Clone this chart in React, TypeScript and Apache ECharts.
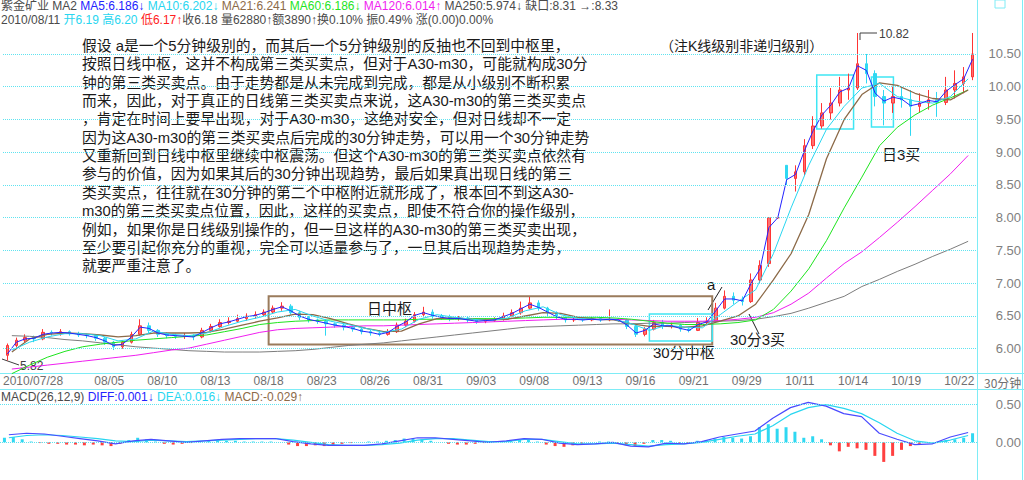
import React, { useEffect, useRef } from 'react';
import * as echarts from 'echarts';

const FONT = '"Liberation Sans", "Noto Sans CJK SC", sans-serif';
const CJK = '"Noto Sans CJK SC", sans-serif';

const days = ['07/28','07/29','07/30','08/02','08/03','08/04','08/05','08/06','08/09','08/10','08/11','08/12','08/13','08/16','08/17','08/18','08/19','08/20','08/23','08/24','08/25','08/26','08/27','08/30','08/31','09/01','09/02','09/03','09/06','09/07','09/08','09/09','09/10','09/13','09/14','09/15','09/16','09/17','09/20','09/21','09/27','09/28','09/29','09/30','10/08','10/11','10/12','10/13','10/14','10/15','10/18','10/19','10/20','10/21','10/22'];

// half-day bars: [open, close, low, high]
const candles: number[][] = [
  [5.90,6.05,5.82,6.08],[6.05,6.13,6.02,6.17],[6.13,6.17,6.10,6.22],[6.17,6.15,6.10,6.20],
  [6.15,6.25,6.13,6.30],[6.25,6.24,6.20,6.28],[6.24,6.26,6.20,6.30],[6.26,6.23,6.20,6.28],
  [6.23,6.21,6.18,6.26],[6.21,6.20,6.16,6.23],[6.20,6.16,6.12,6.22],[6.16,6.10,6.06,6.18],
  [6.10,6.03,5.98,6.12],[6.03,6.10,6.00,6.13],[6.10,6.22,6.08,6.26],[6.22,6.35,6.20,6.45],
  [6.35,6.28,6.24,6.40],[6.28,6.22,6.18,6.30],[6.22,6.20,6.16,6.25],[6.20,6.19,6.15,6.23],
  [6.19,6.20,6.15,6.24],[6.20,6.18,6.13,6.22],[6.18,6.28,6.16,6.32],[6.28,6.34,6.25,6.38],
  [6.34,6.40,6.32,6.45],[6.40,6.42,6.37,6.48],[6.42,6.46,6.40,6.52],[6.46,6.50,6.43,6.54],
  [6.50,6.52,6.46,6.57],[6.52,6.56,6.50,6.60],[6.56,6.62,6.53,6.66],[6.62,6.65,6.58,6.71],
  [6.65,6.55,6.52,6.68],[6.55,6.48,6.44,6.58],[6.48,6.44,6.40,6.50],[6.44,6.42,6.38,6.46],
  [6.42,6.38,6.20,6.45],[6.38,6.36,6.32,6.40],[6.36,6.33,6.28,6.38],[6.33,6.30,6.26,6.35],
  [6.30,6.26,6.22,6.32],[6.26,6.24,6.20,6.29],[6.24,6.22,6.19,6.28],[6.22,6.26,6.20,6.30],
  [6.26,6.36,6.24,6.40],[6.36,6.42,6.33,6.46],[6.42,6.52,6.40,6.56],[6.52,6.56,6.48,6.64],
  [6.56,6.50,6.46,6.60],[6.50,6.48,6.44,6.53],[6.48,6.46,6.42,6.52],[6.46,6.47,6.43,6.50],
  [6.47,6.44,6.40,6.49],[6.44,6.42,6.38,6.46],[6.42,6.43,6.39,6.46],[6.43,6.45,6.41,6.48],
  [6.45,6.50,6.43,6.55],[6.50,6.55,6.48,6.60],[6.55,6.62,6.52,6.72],[6.62,6.70,6.60,6.79],
  [6.70,6.62,6.58,6.74],[6.62,6.55,6.50,6.64],[6.55,6.48,6.44,6.57],[6.48,6.44,6.40,6.50],
  [6.44,6.45,6.41,6.48],[6.45,6.44,6.41,6.47],[6.44,6.46,6.42,6.50],[6.46,6.44,6.41,6.48],
  [6.44,6.45,6.42,6.60],[6.45,6.44,6.41,6.47],[6.44,6.34,6.30,6.46],[6.34,6.22,6.18,6.36],
  [6.22,6.30,6.19,6.33],[6.30,6.40,6.28,6.44],[6.40,6.34,6.30,6.44],[6.34,6.36,6.31,6.40],
  [6.36,6.30,6.26,6.38],[6.30,6.28,6.25,6.32],[6.28,6.40,6.27,6.47],[6.40,6.42,6.37,6.48],
  [6.42,6.62,6.40,6.70],[6.62,6.80,6.60,6.89],[6.80,6.74,6.68,6.86],[6.74,6.72,6.66,6.80],
  [6.72,7.05,6.70,7.15],[7.05,7.27,7.00,7.35],[7.30,8.00,7.25,8.00],[8.00,8.00,7.98,8.00],
  [8.80,8.60,8.50,8.80],[8.60,8.70,8.40,8.80],[8.70,9.10,8.65,9.20],[9.10,9.40,9.05,9.55],
  [9.40,9.60,9.36,9.75],[9.60,9.75,9.50,9.98],[9.75,9.95,9.70,10.15],[9.95,9.98,9.80,10.20],
  [9.98,10.35,9.95,10.82],[10.35,10.20,10.05,10.50],[10.20,9.85,9.70,10.25],[9.85,9.75,9.41,9.95],
  [9.75,9.85,9.60,10.00],[9.85,9.80,9.68,10.00],[9.80,9.70,9.25,9.95],[9.70,9.75,9.60,9.90],
  [9.75,9.80,9.65,9.95],[9.80,9.76,9.54,9.92],[9.76,9.95,9.72,10.15],[9.95,10.05,9.82,10.25],
  [10.05,10.15,9.90,10.30],[10.15,10.50,10.10,10.82]
];

// MA5, one value per half-day bar
const ma5 = [5.92,6.10,6.15,6.16,6.22,6.24,6.25,6.24,6.22,6.20,
  6.17,6.12,6.05,6.07,6.18,6.33,6.31,6.24,6.21,6.20,
  6.19,6.18,6.25,6.32,6.38,6.41,6.45,6.49,6.51,6.55,
  6.60,6.64,6.58,6.50,6.45,6.42,6.39,6.36,6.34,6.31,
  6.27,6.25,6.22,6.25,6.34,6.41,6.51,6.55,6.51,6.48,
  6.46,6.46,6.44,6.42,6.43,6.44,6.49,6.54,6.61,6.68,
  6.63,6.56,6.49,6.45,6.45,6.44,6.45,6.44,6.45,6.44,
  6.36,6.24,6.28,6.38,6.35,6.35,6.31,6.28,6.37,6.41,
  6.58,6.76,6.76,6.73,7.00,7.22,7.85,8.00,8.58,8.66,
  9.02,9.33,9.57,9.72,9.92,9.98,10.32,10.25,9.90,9.78,
  9.84,9.81,9.71,9.74,9.79,9.77,9.93,10.03,10.12,10.42];

// daily readings (one per trading day, at mid-day)
const ma10 = [5.98,6.10,6.18,6.23,6.23,6.20,6.12,6.15,6.27,6.22,6.20,6.24,6.34,6.42,6.48,6.56,6.60,6.50,6.42,6.37,6.31,6.25,6.30,6.45,6.52,6.48,6.45,6.43,6.47,6.58,6.64,6.52,6.46,6.45,6.45,6.38,6.28,6.36,6.33,6.32,6.52,6.72,6.90,7.45,8.15,8.80,9.35,9.70,9.98,10.05,9.85,9.78,9.75,9.85,10.12];
const ma21 = [5.95,6.15,6.22,6.24,6.23,6.21,6.18,6.20,6.24,6.24,6.24,6.25,6.30,6.36,6.42,6.47,6.53,6.52,6.46,6.38,6.31,6.26,6.27,6.38,6.46,6.47,6.45,6.44,6.45,6.50,6.55,6.54,6.48,6.45,6.44,6.38,6.34,6.34,6.33,6.35,6.42,6.50,6.68,7.05,7.45,8.05,8.90,9.50,9.88,10.06,10.02,9.90,9.82,9.80,9.95];
const ma60 = [5.62,5.75,5.87,5.96,6.03,6.07,6.10,6.13,6.15,6.17,6.19,6.21,6.26,6.31,6.37,6.40,6.42,6.43,6.44,6.44,6.44,6.44,6.44,6.45,6.45,6.45,6.46,6.46,6.46,6.47,6.48,6.48,6.48,6.48,6.47,6.45,6.42,6.39,6.37,6.37,6.38,6.40,6.44,6.60,6.88,7.22,7.65,8.15,8.62,9.10,9.38,9.57,9.72,9.83,9.95];
const ma120 = [5.69,5.72,5.75,5.78,5.81,5.84,5.87,5.90,5.94,5.98,6.01,6.07,6.13,6.19,6.25,6.29,6.31,6.32,6.33,6.34,6.35,6.35,6.36,6.37,6.38,6.39,6.40,6.41,6.42,6.43,6.44,6.45,6.45,6.45,6.45,6.44,6.43,6.42,6.42,6.42,6.43,6.45,6.48,6.55,6.68,6.85,7.08,7.30,7.48,7.70,7.93,8.17,8.42,8.67,8.95];
const ma250 = [6.20,6.19,6.17,6.14,6.12,6.09,6.06,6.03,6.01,5.99,5.97,5.96,5.95,5.95,5.95,5.96,5.97,5.99,6.02,6.05,6.07,6.09,6.12,6.15,6.18,6.21,6.24,6.27,6.30,6.33,6.34,6.35,6.36,6.37,6.38,6.38,6.39,6.39,6.40,6.41,6.42,6.43,6.45,6.49,6.54,6.62,6.71,6.80,6.95,7.06,7.18,7.29,7.41,7.52,7.64];

const diff = [0.10,0.12,0.11,0.08,0.05,0.02,-0.02,0.02,0.04,0.02,0.00,0.02,0.04,0.05,0.05,0.05,0.01,-0.02,-0.04,-0.04,-0.04,-0.02,0.02,0.06,0.06,0.04,0.02,0.00,0.02,0.05,0.04,-0.01,-0.03,-0.02,0.00,-0.05,-0.06,-0.01,-0.02,0.01,0.07,0.11,0.15,0.32,0.46,0.53,0.48,0.38,0.34,0.12,0.04,-0.03,-0.02,0.07,0.13];
const dea = [0.06,0.09,0.10,0.09,0.07,0.05,0.02,0.01,0.03,0.02,0.01,0.02,0.03,0.04,0.05,0.05,0.03,0.00,-0.03,-0.04,-0.04,-0.03,-0.01,0.03,0.05,0.05,0.03,0.01,0.01,0.04,0.04,0.01,-0.02,-0.02,-0.01,-0.03,-0.05,-0.03,-0.02,0.00,0.04,0.08,0.11,0.22,0.37,0.46,0.50,0.45,0.38,0.26,0.12,0.02,-0.01,0.03,0.09];
const macdBars = [0.06,0.07,0.04,0.01,-0.01,-0.02,-0.02,-0.03,-0.03,-0.04,
  -0.03,-0.04,-0.05,-0.02,0.03,0.06,0.04,0.01,-0.02,-0.03,
  -0.02,-0.01,0.01,0.02,0.02,0.02,0.02,0.01,0.01,0.01,
  0.01,0.00,-0.03,-0.05,-0.05,-0.04,-0.05,-0.04,-0.02,-0.01,
  0.00,0.01,0.01,0.02,0.03,0.05,0.05,0.04,0.02,0.00,
  -0.02,-0.03,-0.03,-0.02,-0.01,0.00,0.01,0.02,0.03,0.03,
  0.01,-0.03,-0.05,-0.06,-0.04,-0.02,0.00,0.01,0.01,-0.01,
  -0.04,-0.05,-0.02,0.03,0.03,0.02,-0.01,-0.01,0.02,0.03,
  0.05,0.07,0.06,0.05,0.08,0.20,0.24,0.18,0.20,0.14,
  0.06,0.08,0.04,-0.04,-0.12,-0.06,-0.08,-0.10,-0.18,-0.26,
  -0.18,-0.10,-0.05,-0.02,-0.01,-0.01,0.03,0.04,0.06,0.12];

const priceGrid = [6, 6.5, 7, 7.5, 8, 8.5, 9, 9.5, 10, 10.5];
const macdGrid = [0, 0.5];

// annotated zones: day range and price range
const zones = [
  { from: 15, to: 40.05, low: 6.065, high: 6.80, kind: 'day' },
  { from: 36.5, to: 40.05, low: 6.117, high: 6.53, kind: 'm30' },
  { from: 45.95, to: 48.03, low: 9.354, high: 10.18, kind: 'm30' },
  { from: 49.04, to: 50.28, low: 9.385, high: 10.15, kind: 'm30' },
];

const noteLines = [
  '假设 a是一个5分钟级别的，而其后一个5分钟级别的反抽也不回到中枢里，',
  '按照日线中枢，这并不构成第三类买卖点，但对于A30-m30，可能就构成30分',
  '钟的第三类买卖点。由于走势都是从未完成到完成，都是从小级别不断积累',
  '而来，因此，对于真正的日线第三类买卖点来说，这A30-m30的第三类买卖点',
  '，肯定在时间上要早出现，对于A30-m30，这绝对安全，但对日线却不一定',
  '因为这A30-m30的第三类买卖点后完成的30分钟走势，可以用一个30分钟走势',
  '又重新回到日线中枢里继续中枢震荡。但这个A30-m30的第三类买卖点依然有',
  '参与的价值，因为如果其后的30分钟出现趋势，最后如果真出现日线的第三',
  '类买卖点，往往就在30分钟的第二个中枢附近就形成了，根本回不到这A30-',
  'm30的第三类买卖点位置，因此，这样的买卖点，即使不符合你的操作级别，',
  '例如，如果你是日线级别操作的，但一旦这样的A30-m30的第三类买卖出现，',
  '至少要引起你充分的重视，完全可以适量参与了，一旦其后出现趋势走势，',
  '就要严重注意了。',
];

const C_BLUE = '#2323ff';
const C_CYAN = '#28d6f0';
const C_BROWN = '#8c6a48';
const C_GREEN = '#1ee41e';
const C_MAG = '#f01ef0';
const C_GRAY = '#7d7d7d';
const C_UP = '#ff3434';
const C_DN = '#2fd8f2';
const C_TXT = '#4a4a4a';
const C_GRIDLINE = '#5fe3f0';
const C_FRAME = '#7eecf6';

function buildOption() {
  const barNames = candles.map((_, i) => String(i));
  const dayX = (arr: number[]) => arr.map((v, d) => [d + 0.5, v]);
  const maLine = (name: string, data: any, color: string, xIdx: number, extra: any = {}) => ({
    name, type: 'line', xAxisIndex: xIdx, yAxisIndex: 0, data, symbol: 'none',
    lineStyle: { color, width: 1 }, itemStyle: { color }, silent: true, ...extra,
  });
  const rs = (color: string) => ({ color, fontSize: 12, fontFamily: FONT, fontWeight: 'normal' });
  const rich = { g: rs(C_TXT), b: rs(C_BLUE), c: rs(C_CYAN), br: rs(C_BROWN), gr: rs(C_GREEN), m: rs(C_MAG), r: rs('#ff2020') };
  const titleStyle = { fontSize: 12, fontWeight: 'normal', color: C_TXT, fontFamily: FONT, rich };

  const txt = (text: string, x: number, y: number, size: number, fill = '#1a1a1a', family = FONT, align = 'left') => ({
    type: 'text', x, y, silent: true,
    style: { text, fill, fontSize: size, fontFamily: family, align, verticalAlign: 'middle' },
  });
  const ln = (x1: number, y1: number, x2: number, y2: number, stroke: string, w = 1) => ({
    type: 'line', silent: true, shape: { x1, y1, x2, y2 }, style: { stroke, lineWidth: w },
  });

  return {
    animation: false,
    backgroundColor: '#ffffff',
    textStyle: { fontFamily: FONT },
    title: [
      { left: 1, top: 0, padding: 0, textStyle: titleStyle,
        text: '{g|紫金矿业 MA2} {b|MA5:6.186↓} {c|MA10:6.202↓} {br|MA21:6.241} {gr|MA60:6.186↓} {m|MA120:6.014↑} {g|MA250:5.974↓ 缺口:8.31 →:8.33}' },
      { left: 1, top: 14, padding: 0, textStyle: titleStyle,
        text: '{g|2010/08/11} {c|开6.19} {c|高6.20} {r|低6.17↑}{g|收6.18 量62880↑额3890↑换0.10% 振0.49% 涨(0.00)0.00%}' },
      { left: 1, top: 391, padding: 0, textStyle: titleStyle,
        text: '{g|MACD(26,12,9)} {b|DIFF:0.001↓} {c|DEA:0.016↓} {br|MACD:-0.029↑}' },
    ],
    grid: [
      { left: 0, right: 47, top: 21.2, height: 360.3 },
      { left: 0, right: 47, top: 366.9, height: 127.2 },
    ],
    xAxis: [
      { type: 'category', gridIndex: 0, position: 'bottom', data: barNames, boundaryGap: true, show: false },
      { type: 'value', gridIndex: 0, position: 'bottom', min: 0, max: days.length, interval: 3, offset: -8,
        axisLine: { show: false }, axisTick: { show: false }, splitLine: { show: false },
        axisLabel: {
          formatter: (v: number) => {
            const d = Math.round(v);
            if (d === 0) return '2010/' + days[0];
            if (d === 3 || d % 3 !== 0 || d >= days.length) return '';
            return days[d];
          },
          color: '#707070', fontSize: 12, margin: 1, fontFamily: FONT, alignMinLabel: 'left',
        } },
      { type: 'category', gridIndex: 1, position: 'bottom', data: barNames, boundaryGap: true, show: false },
      { type: 'value', gridIndex: 1, position: 'bottom', min: 0, max: days.length, show: false },
    ],
    yAxis: [
      { type: 'value', gridIndex: 0, position: 'right', min: 5.5, max: 11, interval: 0.5,
        axisLine: { show: false }, axisTick: { show: false }, splitLine: { show: false },
        axisLabel: { formatter: (v: number) => (v > 5.9 && v < 10.6 ? v.toFixed(2) : ''),
          color: '#808080', fontSize: 13, align: 'right', margin: 44, fontFamily: FONT } },
      { type: 'value', gridIndex: 1, position: 'right', min: -0.5, max: 1, interval: 0.5,
        axisLine: { show: false }, axisTick: { show: false }, splitLine: { show: false },
        axisLabel: { formatter: (v: number) => (v > -0.1 && v < 0.6 ? v.toFixed(2) : ''),
          color: '#808080', fontSize: 13, align: 'right', margin: 44, fontFamily: FONT } },
    ],
    series: [
      { type: 'candlestick', xAxisIndex: 0, yAxisIndex: 0, data: candles, barWidth: 3, silent: true,
        itemStyle: { color: '#ff7070', color0: C_DN, borderColor: C_UP, borderColor0: C_DN, borderWidth: 1 } },
      maLine('MA250', dayX(ma250), C_GRAY, 1, {
        markArea: { silent: true, label: { show: false },
          data: zones.map(z => [
            { xAxis: z.from, yAxis: z.low, itemStyle: { color: 'rgba(0,0,0,0)',
              borderColor: z.kind === 'day' ? '#9a7b5c' : '#3fe6f4', borderWidth: z.kind === 'day' ? 2 : 1.5 } },
            { xAxis: z.to, yAxis: z.high },
          ]) } }),
      maLine('MA120', dayX(ma120), C_MAG, 1),
      maLine('MA60', dayX(ma60), C_GREEN, 1),
      maLine('MA21', dayX(ma21), C_BROWN, 1, { lineStyle: { color: C_BROWN, width: 1.3 } }),
      maLine('MA10', dayX(ma10), C_CYAN, 1),
      maLine('MA5', ma5, C_BLUE, 0, {
        markLine: { silent: true, symbol: ['none', 'none'], label: { show: false },
          lineStyle: { type: 'dotted', color: C_GRIDLINE, width: 1 },
          data: priceGrid.map(v => ({ yAxis: v })) } }),
      { type: 'bar', xAxisIndex: 2, yAxisIndex: 1, barWidth: 3, silent: true,
        data: macdBars.map(v => ({ value: v, itemStyle: { color: v >= 0 ? C_DN : '#ff4040' } })) },
      { type: 'line', xAxisIndex: 3, yAxisIndex: 1, data: dayX(dea), symbol: 'none', silent: true,
        lineStyle: { color: C_CYAN, width: 1.2 } },
      { type: 'line', xAxisIndex: 3, yAxisIndex: 1, data: dayX(diff), symbol: 'none', silent: true,
        lineStyle: { color: '#4a4aff', width: 1.2 },
        markLine: { silent: true, symbol: ['none', 'none'], label: { show: false },
          lineStyle: { type: 'dotted', color: C_GRIDLINE, width: 1 },
          data: macdGrid.map(v => ({ yAxis: v })) } },
    ],
    graphic: [
      ln(0, 373.5, 1024, 373.5, C_FRAME),
      ln(0, 389.5, 1024, 389.5, C_FRAME),
      ln(977.5, 0, 977.5, 480, C_FRAME),
      ln(1022.5, 0, 1022.5, 480, C_FRAME),
      { type: 'rect', silent: true, shape: { x: 995, y: 0, width: 10, height: 8 }, style: { fill: 'none', stroke: C_FRAME, lineWidth: 1 } },
      ...noteLines.map((t, i) => txt(t, 82, 46 + 18.35 * i, 14.8)),
      txt('（注K线级别非递归级别）', 660, 46, 14),
      txt('日中枢', 367, 308, 15),
      txt('30分中枢', 653, 352, 15),
      txt('a', 707, 284, 15),
      ln(708, 310, 722, 287, '#202020'),
      txt('30分3买', 730, 339, 15),
      ln(749, 314, 759, 334, '#202020'),
      txt('日3买', 882, 154, 15),
      { type: 'polyline', silent: true, shape: { points: [[860, 40], [860, 33], [877, 33]] }, style: { stroke: '#404040', lineWidth: 1, fill: 'none' } },
      txt('10.82', 879, 34, 12, '#404040'),
      ln(2, 359, 19, 365, '#404040'),
      txt('5.82', 20, 366, 12, '#404040'),
      txt('30分钟', 984, 382, 12, '#707070', CJK),
    ],
  };
}

export default function App() {
  const ref = useRef<HTMLDivElement>(null);
  useEffect(() => {
    if (!ref.current) return;
    const chart = echarts.init(ref.current, undefined, { renderer: 'svg' });
    chart.setOption(buildOption() as any);
    return () => chart.dispose();
  }, []);
  return <div ref={ref} style={{ position: 'fixed', left: 0, top: 0, width: 1024, height: 480, background: '#fff' }} />;
}
